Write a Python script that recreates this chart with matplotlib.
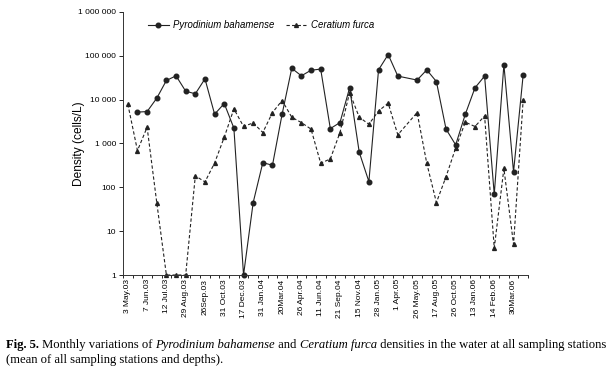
import matplotlib.pyplot as plt
import numpy as np
from matplotlib.ticker import FixedLocator, FuncFormatter

nan = np.nan

# 42 sampling dates, only every second one is labelled
date_labels = [
    "3 May.03", "7 Jun.03", "12 Jul.03", "29 Aug.03", "26Sep.03", "31 Oct.03",
    "17 Dec.03", "31 Jan.04", "20Mar.04", "26 Apr.04", "11 Jun.04", "21 Sep.04",
    "15 Nov.04", "28 Jan.05", "1 Apr.05", "26 May.05", "17 Aug.05", "26 Oct.05",
    "13 Jan.06", "14 Feb.06", "30Mar.06",
]
n_dates = 42

pyrodinium = [
    nan, 5200, 5350, 10800, 27400, 35000, 15600, 13600, 29900, 4660,
    8160, 2240, 1, 45, 366, 319, 4660, 52000, 35000, 47000,
    49800, 2190, 3000, 18600, 630, 135, 47800, 107000, 34500, nan,
    28000, 47800, 25900, 2130, 930, 4660, 18600, 34500, 69, 63000,
    225, 37000,
]
ceratium = [
    7900, 690, 2350, 45, 1, 1, 1, 183, 133, 360,
    1390, 6160, 2450, 2950, 1780, 5080, 9560, 3980, 3000, 2130,
    355, 445, 1780, 14500, 3980, 2750, 5530, 8300, 1580, nan,
    5080, 355, 45, 175, 790, 3070, 2440, 4260, 4.1, 269,
    5.0, 10000,
]

plt.rcParams["font.family"] = ["Liberation Sans", "DejaVu Sans"]

fig = plt.figure(figsize=(6.12, 3.71), dpi=100)
ax = fig.add_axes([123 / 612, 96 / 371, 405 / 612, 263 / 371])

x = np.arange(n_dates)
p = np.array(pyrodinium, dtype=float)
c = np.array(ceratium, dtype=float)
mp = ~np.isnan(p)
mc = ~np.isnan(c)

ax.plot(x[mp], p[mp], color="#222222", linewidth=0.8, marker="o",
        markersize=3.3, label="Pyrodinium bahamense", clip_on=False)
ax.plot(x[mc], c[mc], color="#222222", linewidth=0.8, linestyle=(0, (3, 2)),
        marker="^", markersize=2.8, label="Ceratium furca", clip_on=False)

ax.set_yscale("log")
ax.set_ylim(1, 1e6)
ax.set_xlim(-0.5, n_dates - 0.5)

# Оси
ax.yaxis.set_major_locator(FixedLocator([10 ** k for k in range(7)]))
ax.yaxis.set_minor_locator(FixedLocator([]))
ax.yaxis.set_major_formatter(
    FuncFormatter(lambda v, pos: f"{int(round(v)):,}".replace(",", " "))
)
ax.tick_params(axis="y", labelsize=6, length=3, width=0.6, pad=2)

ax.set_xticks(np.arange(-0.5, n_dates, 1))
ax.set_xticklabels([])
ax.set_xticks(np.arange(0, n_dates, 2), minor=True)
ax.set_xticklabels(date_labels, minor=True, rotation=90, fontsize=6)
ax.tick_params(axis="x", which="major", length=2.5, width=0.6)
ax.tick_params(axis="x", which="minor", length=0, pad=3)

for side in ["top", "right"]:
    ax.spines[side].set_visible(False)
for side in ["left", "bottom"]:
    ax.spines[side].set_linewidth(0.7)
    ax.spines[side].set_color("#333333")

ax.set_ylabel("Density (cells/L)", fontsize=8.6)
ax.yaxis.set_label_coords(-0.095, 0.5)

leg = ax.legend(loc="center left", bbox_to_anchor=(0.04, 0.95), ncol=2,
                frameon=False, fontsize=6.9, handlelength=2.2,
                columnspacing=1.2, handletextpad=0.4)
for t in leg.get_texts():
    t.set_style("italic")

# Подпись к рисунку
caption = [
    [("Fig. 5.", "bold", "normal"), (" Monthly variations of ", "normal", "normal"),
     ("Pyrodinium bahamense", "normal", "italic"), (" and ", "normal", "normal"),
     ("Ceratium furca", "normal", "italic"),
     (" densities in the water at all sampling stations", "normal", "normal")],
    [("(mean of all sampling stations and depths).", "normal", "normal")],
]
fig.canvas.draw()
renderer = fig.canvas.get_renderer()
y_line = 1 - 345 / 371
for line in caption:
    xpos = 6 / 612
    for txt, weight, style in line:
        t = fig.text(xpos, y_line, txt, fontsize=9.1, family="Liberation Serif",
                     weight=weight, style=style, va="center", ha="left")
        bb = t.get_window_extent(renderer)
        xpos += bb.width / fig.bbox.width
    y_line -= 15 / 371

plt.savefig("out.png", dpi=100)
